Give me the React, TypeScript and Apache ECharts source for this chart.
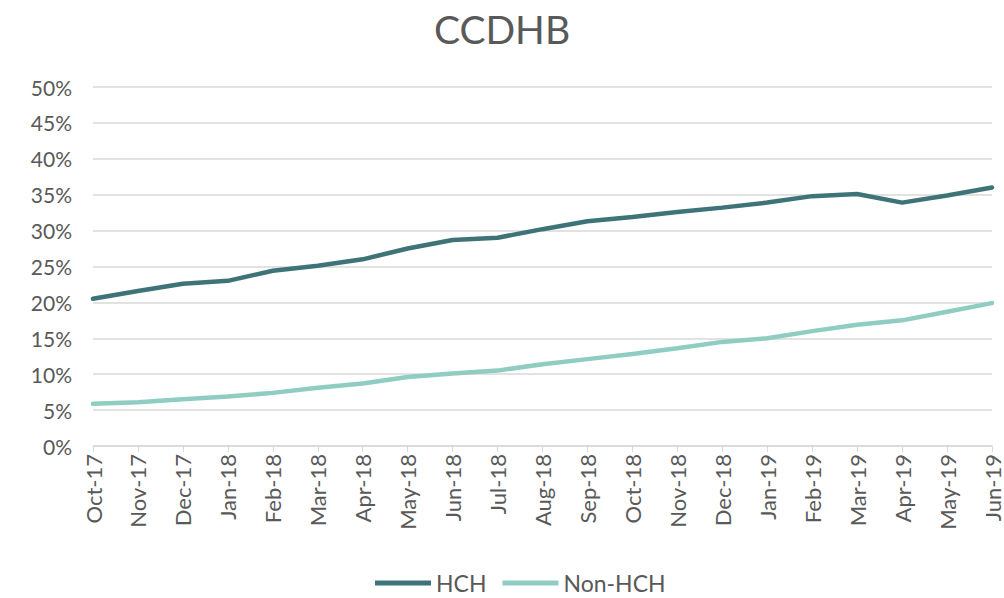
import React, { useEffect, useRef } from "react";
import * as echarts from "echarts";

const categories = [
  "Oct-17", "Nov-17", "Dec-17", "Jan-18", "Feb-18", "Mar-18", "Apr-18",
  "May-18", "Jun-18", "Jul-18", "Aug-18", "Sep-18", "Oct-18", "Nov-18",
  "Dec-18", "Jan-19", "Feb-19", "Mar-19", "Apr-19", "May-19", "Jun-19",
];

const hch = [
  20.5, 21.6, 22.6, 23.0, 24.4, 25.1, 26.0, 27.5, 28.7, 29.0, 30.2,
  31.3, 31.9, 32.6, 33.2, 33.9, 34.8, 35.1, 33.9, 34.9, 36.0,
];

const nonHch = [
  5.9, 6.1, 6.5, 6.9, 7.4, 8.1, 8.7, 9.6, 10.1, 10.5, 11.4,
  12.1, 12.8, 13.6, 14.5, 15.0, 16.0, 16.9, 17.5, 18.7, 19.9,
];

const FONT = "Lato, 'Noto Sans', sans-serif";
const TEXT = "#595959";

export default function App() {
  const ref = useRef<HTMLDivElement>(null);
  useEffect(() => {
    if (!ref.current) return;
    const chart = echarts.init(ref.current, null, { renderer: "svg" });
    chart.setOption({
      animation: false,
      backgroundColor: "#ffffff",
      title: {
        text: "CCDHB",
        left: "center",
        top: 4,
        textStyle: { fontFamily: FONT, fontSize: 39, fontWeight: "normal", color: TEXT },
      },
      grid: { left: 93, right: 12, top: 87, bottom: 152, containLabel: false },
      legend: {
        left: 375,
        top: 570,
        padding: 0,
        itemWidth: 56,
        itemHeight: 5,
        itemGap: 16,
        icon: "rect",
        textStyle: { fontFamily: FONT, fontSize: 23, color: TEXT, lineHeight: 26 },
        data: ["HCH", "Non-HCH"],
      },
      xAxis: {
        type: "category",
        data: categories,
        boundaryGap: false,
        axisLine: { lineStyle: { color: "#d9d9d9", width: 1.5 } },
        axisTick: { show: true, alignWithLabel: true, length: 6, lineStyle: { color: "#d9d9d9" } },
        axisLabel: {
          rotate: 90,
          interval: 0,
          margin: 8,
          fontFamily: FONT,
          fontSize: 22,
          color: TEXT,
        },
        splitLine: { show: false },
      },
      yAxis: {
        type: "value",
        min: 0,
        max: 50,
        interval: 5,
        axisLine: { show: false },
        axisTick: { show: false },
        axisLabel: {
          formatter: "{value}%",
          margin: 21,
          fontFamily: FONT,
          fontSize: 21,
          color: TEXT,
        },
        splitLine: { lineStyle: { color: "#d9d9d9", width: 1.5 } },
      },
      series: [
        {
          name: "HCH",
          type: "line",
          data: hch,
          symbol: "none",
          lineStyle: { color: "#3e7478", width: 4.5, cap: "round" },
          itemStyle: { color: "#3e7478" },
        },
        {
          name: "Non-HCH",
          type: "line",
          data: nonHch,
          symbol: "none",
          lineStyle: { color: "#8fcdc3", width: 4.5, cap: "round" },
          itemStyle: { color: "#8fcdc3" },
        },
      ],
    });
    return () => chart.dispose();
  }, []);
  return <div ref={ref} style={{ width: 1004, height: 598, position: "absolute", left: 0, top: 0 }} />;
}
